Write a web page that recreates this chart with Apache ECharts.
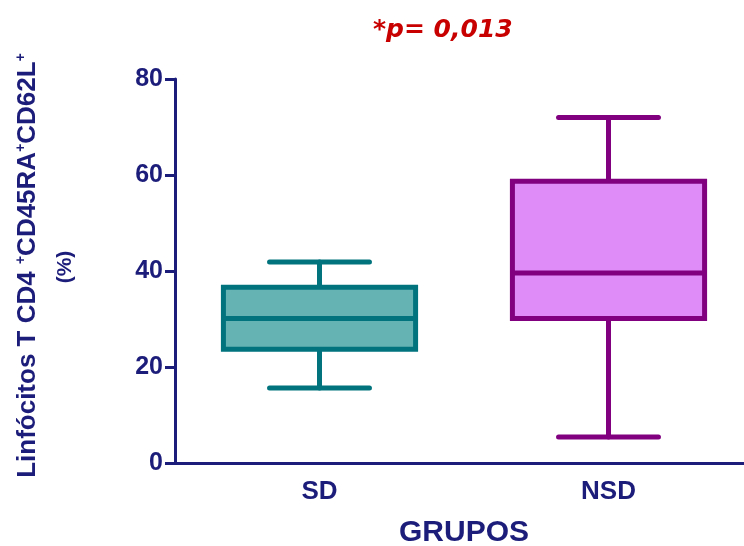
<!DOCTYPE html>
<html>
<head>
<meta charset="utf-8">
<script src="https://cdn.jsdelivr.net/npm/echarts@6/dist/echarts.min.js"></script>
<style>
  html, body { margin: 0; padding: 0; background: #ffffff; }
  #chart { width: 744px; height: 546px; }
</style>
</head>
<body>
<div id="chart"></div>
<script>
// Groups and five-number summaries (min, Q1, median, Q3, max), in %
const groups = ['SD', 'NSD'];
const minVals = [15.6, 5.4];
const q1Vals = [23.7, 30.1];
const medianVals = [30.1, 39.6];
const q3Vals = [36.6, 58.7];
const maxVals = [41.9, 72.0];
const yTicks = [0, 20, 40, 60, 80];

const fillColors = ['#66b3b3', '#df8cf8'];
const strokeColors = ['#00737d', '#800080'];
const navy = '#1c1c7a';

const boxData = groups.map((g, i) => [i, minVals[i], q1Vals[i], medianVals[i], q3Vals[i], maxVals[i]]);

function renderBox(params, api) {
  const i = api.value(0);
  const band = api.size([1, 0])[0];
  const boxW = band * 0.665;
  const capW = boxW * 0.52;
  const pMin = api.coord([i, api.value(1)]);
  const pQ1 = api.coord([i, api.value(2)]);
  const pMed = api.coord([i, api.value(3)]);
  const pQ3 = api.coord([i, api.value(4)]);
  const pMax = api.coord([i, api.value(5)]);
  const cx = pMed[0];
  const stroke = strokeColors[i];
  const lineStyle = { stroke: stroke, lineWidth: 5, lineCap: 'round' };
  return {
    type: 'group',
    children: [
      { type: 'line', shape: { x1: cx, y1: pQ3[1], x2: cx, y2: pMax[1] }, style: lineStyle },
      { type: 'line', shape: { x1: cx, y1: pMin[1], x2: cx, y2: pQ1[1] }, style: lineStyle },
      { type: 'line', shape: { x1: cx - capW / 2, y1: pMax[1], x2: cx + capW / 2, y2: pMax[1] }, style: lineStyle },
      { type: 'line', shape: { x1: cx - capW / 2, y1: pMin[1], x2: cx + capW / 2, y2: pMin[1] }, style: lineStyle },
      { type: 'rect', shape: { x: cx - boxW / 2, y: pQ3[1], width: boxW, height: pQ1[1] - pQ3[1] },
        style: { fill: fillColors[i], stroke: stroke, lineWidth: 5 } },
      { type: 'line', shape: { x1: cx - boxW / 2, y1: pMed[1], x2: cx + boxW / 2, y2: pMed[1] },
        style: { stroke: stroke, lineWidth: 5 } }
    ]
  };
}

const chart = echarts.init(document.getElementById('chart'), null, { renderer: 'canvas' });
chart.setOption({
  backgroundColor: '#ffffff',
  animation: false,
  title: {
    text: '*p= 0,013',
    left: 368,
    top: 13,
    textStyle: {
      fontFamily: 'DejaVu Sans',
      fontStyle: 'italic',
      fontWeight: 'bold',
      fontSize: 25,
      color: '#c80000'
    }
  },
  grid: { left: 175, top: 79, width: 578, height: 384, outerBoundsMode: 'none', containLabel: false },
  xAxis: {
    type: 'category',
    data: groups,
    boundaryGap: true,
    axisLine: { lineStyle: { color: navy, width: 3 } },
    axisTick: { alignWithLabel: true, length: 7, lineStyle: { color: navy, width: 3 } },
    axisLabel: {
      margin: 16,
      fontFamily: 'Liberation Sans',
      fontWeight: 'bold',
      fontSize: 26,
      color: navy
    },
    name: 'GRUPOS',
    nameLocation: 'middle',
    nameGap: 55,
    nameTextStyle: {
      fontFamily: 'Liberation Sans',
      fontWeight: 'bold',
      fontSize: 30,
      color: navy
    },
    splitLine: { show: false }
  },
  yAxis: {
    type: 'value',
    min: 0,
    max: 80,
    interval: 20,
    axisLine: { show: true, lineStyle: { color: navy, width: 3 } },
    axisTick: { show: true, length: 10, lineStyle: { color: navy, width: 3 } },
    axisLabel: {
      margin: 12,
      fontFamily: 'Liberation Sans',
      fontWeight: 'bold',
      fontSize: 25,
      color: navy,
      formatter: v => (yTicks.includes(v) ? String(v) : '')
    },
    splitLine: { show: false },
    name: '{a0|Linfócitos T CD4 }{s|+}{a|CD45RA}{s|+}{a|CD62L}{s|+}\n{p|(%)}',
    nameLocation: 'middle',
    nameRotate: 90,
    nameGap: 87,
    nameTextStyle: {
      color: navy,
      rich: {
        a0: { fontFamily: 'Liberation Sans', fontWeight: 'bold', fontSize: 26, lineHeight: 28, color: navy, padding: [0, 0, 0, 11] },
        a: { fontFamily: 'Liberation Sans', fontWeight: 'bold', fontSize: 26, lineHeight: 28, color: navy },
        s: { fontFamily: 'Liberation Sans', fontWeight: 'bold', fontSize: 14, lineHeight: 28, verticalAlign: 'top', color: navy },
        p: { fontFamily: 'Liberation Sans', fontWeight: 'bold', fontSize: 21, lineHeight: 46, color: navy, padding: [0, 0, 0, 8] }
      }
    }
  },
  series: [{
    type: 'custom',
    renderItem: renderBox,
    encode: { x: 0, y: [1, 2, 3, 4, 5] },
    data: boxData,
    clip: false
  }]
});
</script>
</body>
</html>
